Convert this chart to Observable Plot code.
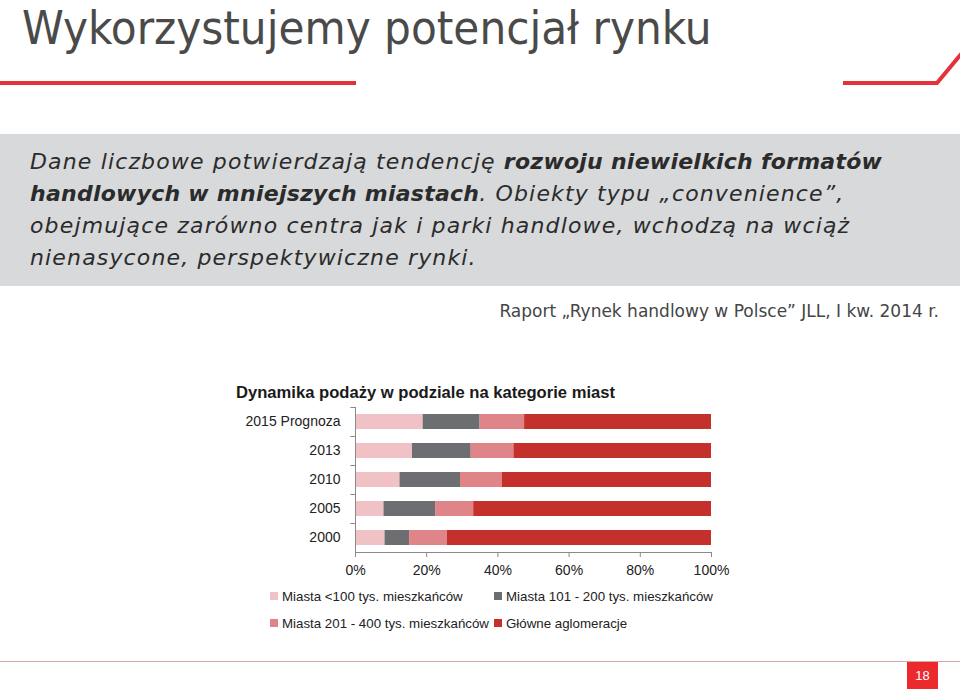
<!DOCTYPE html>
<html>
<head>
<meta charset="utf-8">
<script src="https://cdn.jsdelivr.net/npm/d3@7"></script>
<script src="https://cdn.jsdelivr.net/npm/@observablehq/plot@0.6"></script>
<style>
  html, body { margin: 0; padding: 0; background: #fff; }
  #page { position: relative; width: 960px; height: 689px; overflow: hidden; background: #fff; }
  .abs { position: absolute; }
  #title { left: 22px; top: 0px; font-family: "DejaVu Sans"; font-stretch: condensed; font-size: 47px; line-height: normal; color: #4a4a4a; white-space: nowrap; }
  #redL { left: 0; top: 81px; width: 356px; height: 4px; background: #e4323a; }
  #deco { left: 0; top: 0; }
  #box { left: 0; top: 134px; width: 960px; height: 152px; background: #d8d9db; }
  #boxtext { left: 30px; top: 146px; font-family: "DejaVu Sans"; font-style: italic; font-size: 22px; letter-spacing: 1.15px; line-height: 32px; color: #2b2b2b; white-space: nowrap; }
  #boxtext b { font-weight: bold; letter-spacing: 0.25px; }
  #source { right: 21px; top: 301px; font-family: "DejaVu Sans"; font-size: 17px; color: #454545; white-space: nowrap; }
  #ctitle { left: 236px; top: 383px; font-family: "Liberation Sans", Arial, sans-serif; font-weight: bold; font-size: 16.6px; color: #1a1a1a; white-space: nowrap; }
  #chart { left: 230px; top: 400px; }
  #legend { left: 270px; top: 587px; font-family: "Liberation Sans", Arial, sans-serif; font-size: 13.3px; color: #222; display: grid; grid-template-columns: 224px auto; row-gap: 9px; }
  #legend .item { display: flex; align-items: center; white-space: nowrap; height: 18px; }
  #legend .sw { width: 8px; height: 8px; margin-right: 4px; flex-shrink: 0; }
  #footline { left: 0; top: 661px; width: 960px; height: 1px; background: #d3aaa2; }
  #pagenum { left: 907px; top: 662px; width: 31px; height: 27px; background: #ec2a2e; color: #fff; font-family: "Liberation Sans", Arial, sans-serif; font-size: 13px; display: flex; align-items: center; justify-content: center; }
</style>
</head>
<body>
<div id="page">
  <div id="title" class="abs">Wykorzystujemy potencjał rynku</div>
  <div id="redL" class="abs"></div>
  <svg id="deco" class="abs" width="960" height="100">
    <polyline points="843,83 937,83 962,53" fill="none" stroke="#e4323a" stroke-width="4"/>
  </svg>
  <div id="box" class="abs"></div>
  <div id="boxtext" class="abs">Dane liczbowe potwierdzają tendencję <b>rozwoju niewielkich formatów<br>handlowych w mniejszych miastach</b>. Obiekty typu „convenience”,<br>obejmujące zarówno centra jak i parki handlowe, wchodzą na wciąż<br>nienasycone, perspektywiczne rynki.</div>
  <div id="source" class="abs">Raport „Rynek handlowy w Polsce” JLL, I kw. 2014 r.</div>
  <div id="ctitle" class="abs">Dynamika podaży w podziale na kategorie miast</div>
  <div id="chart" class="abs"></div>
  <div id="legend" class="abs"></div>
  <div id="footline" class="abs"></div>
  <div id="pagenum" class="abs">18</div>
</div>
<script>
// ---- data ----
const years = ["2015 Prognoza", "2013", "2010", "2005", "2000"];
const categories = [
  "Miasta <100 tys. mieszkańców",
  "Miasta 101 - 200 tys. mieszkańców",
  "Miasta 201 - 400 tys. mieszkańców",
  "Główne aglomeracje"
];
const smallCities  = [19.0, 16.0, 12.5,  8.0,  8.3];
const mediumCities = [16.0, 16.5, 17.0, 14.5,  6.9];
const largeCities  = [12.5, 12.0, 11.7, 10.7, 10.6];
const mainAgglo    = [52.5, 55.5, 58.8, 66.8, 74.2];
const xTicks = [0, 20, 40, 60, 80, 100];
const colors = ["#f0c2c5", "#6c6e71", "#df8589", "#c4312c"];

// ---- table ----
const series = [smallCities, mediumCities, largeCities, mainAgglo];
const rows = [];
years.forEach((y, i) => {
  categories.forEach((c, j) => rows.push({year: y, category: c, value: series[j][i]}));
});

const W = 500, H = 186, mT = 7, mB = 34, mL = 125, mR = 19;
const step = (H - mT - mB) / years.length;
const axisColor = "#8a8a8a";

const chart = Plot.plot({
  width: W, height: H,
  marginTop: mT, marginBottom: mB, marginLeft: mL, marginRight: mR,
  style: {fontFamily: "'Liberation Sans', Arial, sans-serif", fontSize: "14px", color: "#222", background: "transparent"},
  x: {domain: [0, 100], ticks: xTicks, tickFormat: d => d + "%", label: null},
  y: {domain: years, paddingInner: 0.5, paddingOuter: 0.25, align: 0.5, label: null},
  color: {domain: categories, range: colors},
  marks: [
    Plot.barX(rows, Plot.stackX({x: "value", y: "year", fill: "category", order: null, inset: 0})),
    Plot.frame({anchor: "left", stroke: axisColor}),
    Plot.frame({anchor: "bottom", stroke: axisColor}),
    Plot.ruleY(years, {y: d => d, x1: -1.3, x2: 0, dy: -step / 2, stroke: axisColor}),
    Plot.axisX({ticks: xTicks, tickSize: 5, tickPadding: 8, stroke: axisColor, tickFormat: d => d + "%", fill: "#222", label: null}),
    Plot.axisY({tickSize: 0, tickPadding: 15, fill: "#222", label: null})
  ]
});
document.getElementById("chart").appendChild(chart);

// ---- legend ----
const legend = document.getElementById("legend");
categories.forEach((c, j) => {
  const item = document.createElement("div");
  item.className = "item";
  const sw = document.createElement("span");
  sw.className = "sw";
  sw.style.background = colors[j];
  const t = document.createElement("span");
  t.textContent = c;
  item.appendChild(sw); item.appendChild(t);
  legend.appendChild(item);
});
</script>
</body>
</html>
